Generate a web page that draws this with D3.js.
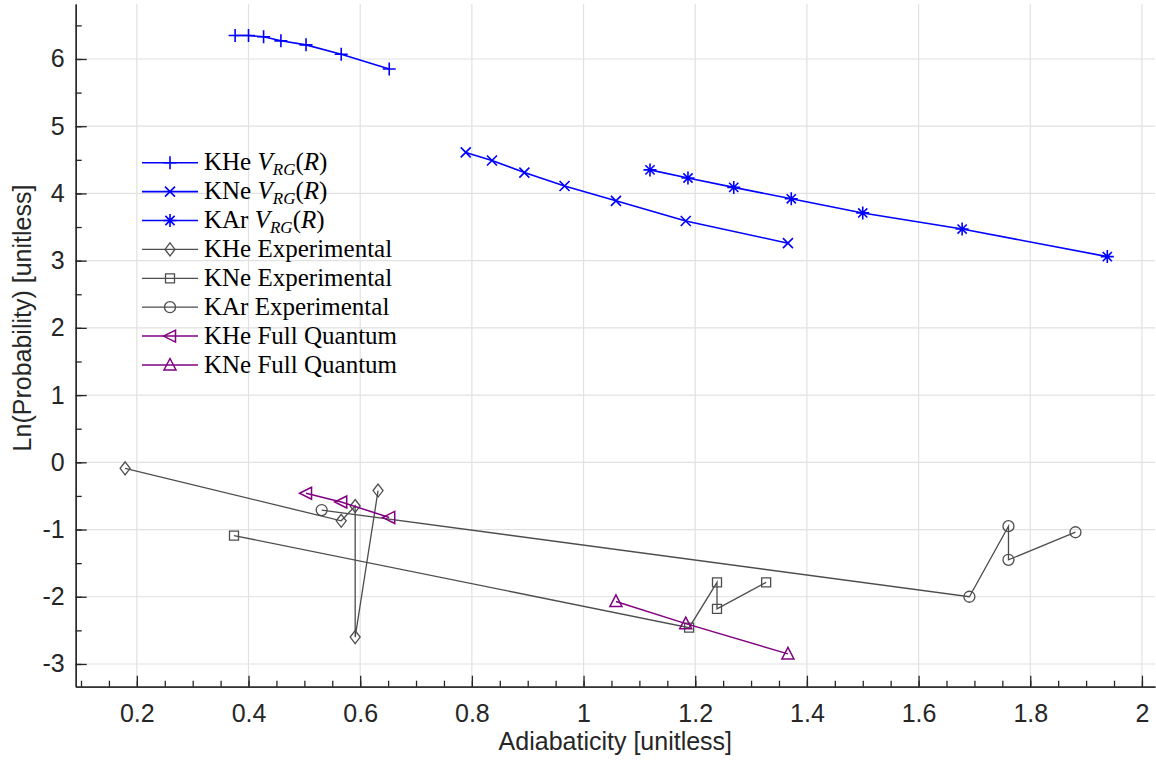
<!DOCTYPE html>
<html>
<head>
<meta charset="utf-8">
<script src="https://cdn.jsdelivr.net/npm/d3@7"></script>
<style>
  body { margin: 0; background: #fff; }
  svg { display: block; }
</style>
</head>
<body>
<svg id="chart"></svg>
<script>
// values
var kheVrgX = [0.376, 0.400, 0.427, 0.458, 0.503, 0.566, 0.652];
var kheVrgY = [6.35, 6.35, 6.33, 6.27, 6.21, 6.07, 5.85];
var kneVrgX = [0.789, 0.836, 0.894, 0.966, 1.058, 1.183, 1.366];
var kneVrgY = [4.61, 4.49, 4.31, 4.11, 3.89, 3.59, 3.26];
var karVrgX = [1.119, 1.187, 1.269, 1.372, 1.500, 1.678, 1.938];
var karVrgY = [4.35, 4.23, 4.09, 3.92, 3.71, 3.47, 3.06];
var kheExpX = [0.179, 0.566, 0.591, 0.591, 0.632];
var kheExpY = [-0.09, -0.87, -0.65, -2.60, -0.42];
var kneExpX = [0.374, 1.189, 1.239, 1.239, 1.327];
var kneExpY = [-1.09, -2.46, -1.785, -2.18, -1.785];
var karExpX = [0.531, 1.691, 1.761, 1.761, 1.881];
var karExpY = [-0.71, -2.00, -0.95, -1.45, -1.04];
var kheFqX = [0.503, 0.566, 0.652];
var kheFqY = [-0.46, -0.59, -0.82];
var kneFqX = [1.058, 1.183, 1.366];
var kneFqY = [-2.07, -2.40, -2.85];

var xTickVals = [0.2, 0.4, 0.6, 0.8, 1, 1.2, 1.4, 1.6, 1.8, 2];
var yTickVals = [-3, -2, -1, 0, 1, 2, 3, 4, 5, 6];
var xLabel = "Adiabaticity [unitless]";
var yLabel = "Ln(Probability) [unitless]";

var blue = "#0000ff", gray = "#4d4d4d", purple = "#800080";

// series table (legend order)
var series = [
  {atom: "KHe", kind: "vrg", xs: kheVrgX, ys: kheVrgY, color: blue, marker: "plus", lw: 1.6},
  {atom: "KNe", kind: "vrg", xs: kneVrgX, ys: kneVrgY, color: blue, marker: "cross", lw: 1.6},
  {atom: "KAr", kind: "vrg", xs: karVrgX, ys: karVrgY, color: blue, marker: "star", lw: 1.6},
  {atom: "KHe", kind: "Experimental", xs: kheExpX, ys: kheExpY, color: gray, marker: "diamond", lw: 1.3},
  {atom: "KNe", kind: "Experimental", xs: kneExpX, ys: kneExpY, color: gray, marker: "square", lw: 1.3},
  {atom: "KAr", kind: "Experimental", xs: karExpX, ys: karExpY, color: gray, marker: "circle", lw: 1.3},
  {atom: "KHe", kind: "Full Quantum", xs: kheFqX, ys: kheFqY, color: purple, marker: "triLeft", lw: 1.5},
  {atom: "KNe", kind: "Full Quantum", xs: kneFqX, ys: kneFqY, color: purple, marker: "triUp", lw: 1.5}
];

var markerPaths = {
  plus: "M-6.5,0H6.5M0,-6.5V6.5",
  cross: "M-5,-5L5,5M-5,5L5,-5",
  star: "M-6.5,0H6.5M0,-6.5V6.5M-4.6,-4.6L4.6,4.6M-4.6,4.6L4.6,-4.6",
  diamond: "M0,-6.5L5,0L0,6.5L-5,0Z",
  square: "M-4.5,-4.5h9v9h-9Z",
  circle: "M5.5,0A5.5,5.5 0 1,1 -5.5,0A5.5,5.5 0 1,1 5.5,0Z",
  triLeft: "M-6.5,0L5.5,-6L5.5,6Z",
  triUp: "M0,-6.5L6,5L-6,5Z"
};

var width = 1156, height = 769;
var plotLeft = 75.7, plotRight = 1155, plotTop = 4, plotBottom = 686.7;

var svg = d3.select("#chart").attr("width", width).attr("height", height);

var x = d3.scaleLinear().domain([0.0905, 2.0234]).range([plotLeft, plotRight]);
var y = d3.scaleLinear().domain([-3.338, 6.818]).range([plotBottom, plotTop]);

// grid
var grid = svg.append("g");
grid.selectAll(".vg").data(xTickVals).enter().append("line")
  .attr("x1", function(d){ return x(d); }).attr("x2", function(d){ return x(d); })
  .attr("y1", plotTop).attr("y2", plotBottom)
  .attr("stroke", "#e1e1e1").attr("stroke-width", 1.2);
grid.selectAll(".hg").data(yTickVals).enter().append("line")
  .attr("x1", plotLeft).attr("x2", plotRight)
  .attr("y1", function(d){ return y(d); }).attr("y2", function(d){ return y(d); })
  .attr("stroke", "#e1e1e1").attr("stroke-width", 1.2);

// axes
var fmt = function(d){ return String(d); };
var axisColor = "#262626";

var xMinor = d3.range(2, 41).map(function(i){ return +(i * 0.05).toFixed(2); });
var yMinor = d3.range(-6, 14).map(function(i){ return i * 0.5; });

var gxm = svg.append("g").attr("transform", "translate(0," + plotBottom + ")")
  .call(d3.axisBottom(x).tickValues(xMinor).tickSizeInner(-6).tickSizeOuter(0).tickFormat(""));
var gym = svg.append("g").attr("transform", "translate(" + plotLeft + ",0)")
  .call(d3.axisLeft(y).tickValues(yMinor).tickSizeInner(-6).tickSizeOuter(0).tickFormat(""));

var gx = svg.append("g").attr("transform", "translate(0," + plotBottom + ")")
  .call(d3.axisBottom(x).tickValues(xTickVals).tickSizeInner(-11).tickSizeOuter(0).tickPadding(18).tickFormat(fmt));
var gy = svg.append("g").attr("transform", "translate(" + plotLeft + ",0)")
  .call(d3.axisLeft(y).tickValues(yTickVals).tickSizeInner(-11).tickSizeOuter(0).tickPadding(11).tickFormat(fmt));

[gx, gy, gxm, gym].forEach(function(g){
  g.selectAll("path").attr("stroke", axisColor).attr("stroke-width", 1.3);
  g.selectAll("line").attr("stroke", axisColor).attr("stroke-width", 1.3);
  g.selectAll("text").attr("fill", axisColor)
    .style("font-family", "'Liberation Sans', Arial, sans-serif").style("font-size", "25px");
});

svg.append("text").attr("x", (plotLeft + plotRight) / 2).attr("y", 750)
  .attr("text-anchor", "middle").attr("fill", axisColor)
  .style("font-family", "'Liberation Sans', Arial, sans-serif").style("font-size", "25px")
  .text(xLabel);
svg.append("text").attr("transform", "translate(31,318) rotate(-90)")
  .attr("text-anchor", "middle").attr("fill", axisColor)
  .style("font-family", "'Liberation Sans', Arial, sans-serif").style("font-size", "25px")
  .text(yLabel);

// series
var line = d3.line().x(function(d){ return x(d[0]); }).y(function(d){ return y(d[1]); });
var plot = svg.append("g");
series.forEach(function(s){
  var pts = d3.zip(s.xs, s.ys);
  plot.append("path").datum(pts).attr("d", line)
    .attr("fill", "none").attr("stroke", s.color).attr("stroke-width", s.lw);
  plot.selectAll(null).data(pts).enter().append("path")
    .attr("transform", function(d){ return "translate(" + x(d[0]) + "," + y(d[1]) + ")"; })
    .attr("d", markerPaths[s.marker])
    .attr("fill", "none").attr("stroke", s.color).attr("stroke-width", s.lw);
});

// legend
var legend = svg.append("g");
var rows = legend.selectAll("g").data(series).enter().append("g")
  .attr("transform", function(d, i){ return "translate(142," + (162.7 + i * 28.9) + ")"; });
rows.append("line").attr("x1", 0).attr("x2", 56).attr("y1", 0).attr("y2", 0)
  .attr("stroke", function(d){ return d.color; }).attr("stroke-width", function(d){ return d.lw; });
rows.append("path").attr("transform", "translate(28,0)")
  .attr("d", function(d){ return markerPaths[d.marker]; })
  .attr("fill", "none").attr("stroke", function(d){ return d.color; })
  .attr("stroke-width", function(d){ return d.lw; });
var txt = rows.append("text").attr("x", 62).attr("y", 7.6).attr("fill", "#000")
  .style("font-family", "'Liberation Serif', 'Times New Roman', serif").style("font-size", "25px");
txt.each(function(d){
  var t = d3.select(this);
  if (d.kind === "vrg") {
    t.append("tspan").text(d.atom + " ");
    t.append("tspan").attr("font-style", "italic").text("V");
    t.append("tspan").attr("font-style", "italic").attr("font-size", "17px").attr("dy", 5).text("RG");
    t.append("tspan").attr("dy", -5).text("(");
    t.append("tspan").attr("font-style", "italic").text("R");
    t.append("tspan").text(")");
  } else {
    t.text(d.atom + " " + d.kind);
  }
});
</script>
</body>
</html>
